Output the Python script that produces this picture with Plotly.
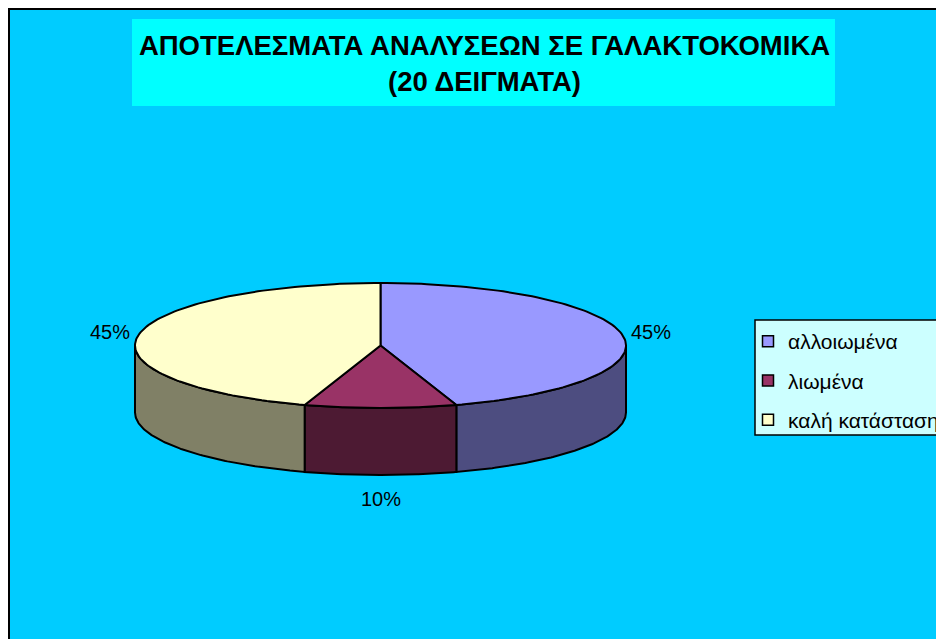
import numpy as np
import plotly.graph_objects as go

# ---- data ----
categories = ["αλλοιωμένα", "λιωμένα", "καλή κατάσταση"]
values = [9, 2, 9]  # out of 20 samples -> 45%, 10%, 45%
title_line1 = "ΑΠΟΤΕΛΕΣΜΑΤΑ ΑΝΑΛΥΣΕΩΝ ΣΕ ΓΑΛΑΚΤΟΚΟΜΙΚΑ"
title_line2 = "(20 ΔΕΙΓΜΑΤΑ)"

# ---- styles ----
top_colors = ["#9999FF", "#993366", "#FFFFCC"]
side_colors = ["#4D4D80", "#4D1A33", "#808066"]
W, H = 944, 639
OFF = 8  # page body margin: data coordinates == screen pixels
CX, CY, RX, RY, DEPTH = 380.5, 345.5, 245.5, 62.5, 67
FONT = "Liberation Sans, Arial, sans-serif"

total = sum(values)
shares = [v / total for v in values]
angles = np.concatenate([[0], np.cumsum(shares) * 360])


def arc(a1, a2, dy=0, n=120):
    th = np.radians(np.linspace(a1, a2, n))
    return list(CX + RX * np.sin(th)), list(CY - RY * np.cos(th) + dy)


fig = go.Figure()

# side faces (front half only)
for i in range(len(values)):
    lo, hi = max(angles[i], 90), min(angles[i + 1], 270)
    if lo < hi:
        xt, yt = arc(lo, hi)
        xb, yb = arc(hi, lo, DEPTH)
        fig.add_trace(go.Scatter(
            x=xt + xb + [xt[0]], y=yt + yb + [yt[0]], mode="lines", fill="toself",
            fillcolor=side_colors[i], line=dict(color="black", width=2),
            hoverinfo="skip", showlegend=False))

# top faces
for i in range(len(values)):
    xa, ya = arc(angles[i], angles[i + 1])
    fig.add_trace(go.Scatter(
        x=[CX] + xa + [CX], y=[CY] + ya + [CY], mode="lines", fill="toself",
        fillcolor=top_colors[i], line=dict(color="black", width=2),
        hoverinfo="skip", showlegend=False))

# legend entries
for i, c in enumerate(categories):
    fig.add_trace(go.Scatter(
        x=[None], y=[None], mode="markers", name=c, legendgroup=c,
        marker=dict(symbol="square", size=11, color=top_colors[i],
                    line=dict(color="black", width=1.5))))

# data labels
annotations = []
for i, s in enumerate(shares):
    mid = np.radians((angles[i] + angles[i + 1]) / 2)
    lx = CX + (RX + 28) * np.sin(mid)
    ly = CY - (RY + 24) * np.cos(mid) + DEPTH * max(0, -np.cos(mid))
    annotations.append(dict(x=lx, y=ly, text=f"{round(s * 100)}%", showarrow=False,
                            font=dict(family=FONT, size=20, color="black"),
                            xanchor="center", yanchor="middle"))

shapes = [
    dict(type="rect", xref="x", yref="y", x0=9, y0=9, x1=1000, y1=700,
         fillcolor="#00CCFF", line=dict(color="black", width=2), layer="below"),
    dict(type="rect", xref="x", yref="y", x0=132, y0=19, x1=835, y1=106,
         fillcolor="#00FFFF", line=dict(width=0), layer="below"),
    dict(type="rect", xref="x", yref="y", x0=755, y0=320, x1=1000, y1=435,
         fillcolor="#CCFFFF", line=dict(color="black", width=1.5), layer="below"),
]

fig.update_layout(
    width=W, height=H, margin=dict(l=0, r=0, t=0, b=0),
    paper_bgcolor="white", plot_bgcolor="white",
    xaxis=dict(range=[OFF, W + OFF], visible=False, fixedrange=True),
    yaxis=dict(range=[H + OFF, OFF], visible=False, fixedrange=True),
    title=dict(text=f"<b>{title_line1}<br>{title_line2}</b>", x=(484.5 - OFF) / W,
               xanchor="center", y=1 - (55 - OFF) / H, yanchor="middle", yref="paper",
               font=dict(family=FONT, size=27.5, color="black")),
    legend=dict(x=(748 - OFF) / W, y=1 - (321 - OFF) / H, xanchor="left", yanchor="top",
                bgcolor="rgba(0,0,0,0)", borderwidth=0, tracegroupgap=9,
                font=dict(family=FONT, size=21, color="black")),
    shapes=shapes, annotations=annotations, showlegend=True,
)

fig.write_html("out.html")
